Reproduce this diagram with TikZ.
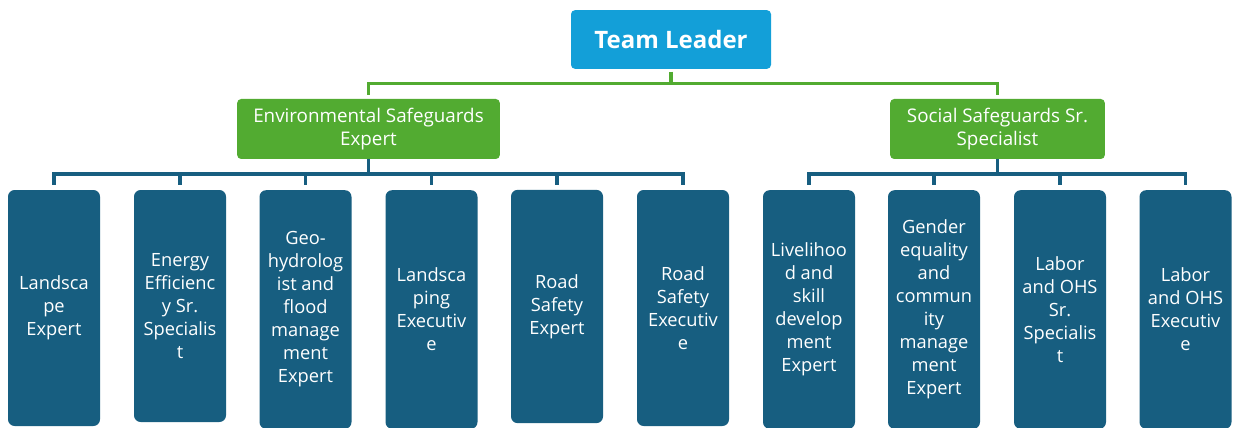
\documentclass[tikz,border=0pt]{standalone}
\usepackage{fontspec}
\setmainfont{Open Sans}
\usepackage{xcolor}
\usetikzlibrary{positioning}
\definecolor{leadblue}{HTML}{139FD8}
\definecolor{safegreen}{HTML}{52AB31}
\definecolor{staffblue}{HTML}{175E80}
\tikzset{
  leadbox/.style={fill=leadblue,rounded corners=3pt,text=white,
                  minimum width=150pt,minimum height=44pt,
                  font=\fontsize{18pt}{22pt}\selectfont\bfseries},
  safebox/.style={fill=safegreen,rounded corners=3pt,text=white,align=center,
                  minimum height=45pt,inner sep=2pt,
                  font=\fontsize{14.1pt}{17.25pt}\selectfont},
  staffbox/.style={fill=staffblue,rounded corners=5pt,text=white,align=center,
                   minimum width=69pt,inner sep=1pt,
                   font=\fontsize{13.7pt}{17.25pt}\selectfont},
  greenline/.style={draw=safegreen,line width=2.8pt,shorten <=2pt,shorten >=3pt},
  blueline/.style={draw=staffblue,line width=2.8pt,shorten >=3.75pt}
}

\begin{document}
\begin{tikzpicture}[x=0.75pt,y=-0.75pt]
  \clip (0,0) rectangle (1233,428);
  \useasboundingbox (0,0) rectangle (1233,428);

  % top of the chart
  \node[leadbox] (lead) at (671,39.5) {Team Leader};
  \node[safebox,minimum width=197pt] (env) at (368.5,129)
    {Environmental Safeguards\\Expert};
  \node[safebox,minimum width=161pt] (soc) at (997.5,129)
    {Social Safeguards Sr.\\Specialist};

  % environmental team
  \node[staffbox,minimum height=177pt] (e1) at (54,308)
    {Landsca\\pe\\Expert};
  \node[staffbox,minimum height=174pt] (e2) at (180,306)
    {Energy\\Efficienc\\y Sr.\\Specialis\\t};
  \node[staffbox,minimum height=179pt] (e3) at (305.5,309.5)
    {Geo-\\hydrolog\\ist and\\flood\\manage\\ment\\Expert};
  \node[staffbox,minimum height=179pt] (e4) at (431.5,309.5)
    {Landsca\\ping\\Executiv\\e};
  \node[staffbox,minimum height=175pt] (e5) at (557,306.5)
    {Road\\Safety\\Expert};
  \node[staffbox,minimum height=177pt] (e6) at (683,308)
    {Road\\Safety\\Executiv\\e};

  % social team
  \node[staffbox,minimum height=179pt] (s1) at (809,309.5)
    {Livelihoo\\d and\\skill\\develop\\ment\\Expert};
  \node[staffbox,minimum height=179pt] (s2) at (934,309.5)
    {Gender\\equality\\and\\commun\\ity\\manage\\ment\\Expert};
  \node[staffbox,minimum height=179pt] (s3) at (1060,309.5)
    {Labor\\and OHS\\Sr.\\Specialis\\t};
  \node[staffbox,minimum height=179pt] (s4) at (1185.5,309.5)
    {Labor\\and OHS\\Executiv\\e};

  % connectors
  \draw[greenline] (lead.south) -- ++(0,14.5) -| (env.north);
  \draw[greenline] (lead.south) -- ++(0,14.5) -| (soc.north);
  \foreach \n in {e1,e2,e3,e4,e5,e6}
    \draw[blueline] (env.south) -- ++(0,15) -| (\n.north);
  \foreach \n in {s1,s2,s3,s4}
    \draw[blueline] (soc.south) -- ++(0,15) -| (\n.north);
\end{tikzpicture}
\end{document}
